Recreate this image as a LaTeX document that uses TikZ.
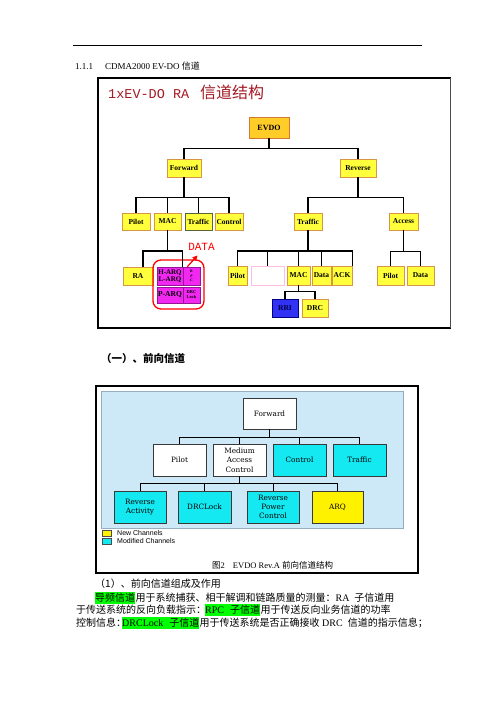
\documentclass[tikz,border=0pt]{standalone}
\usepackage{fontspec}
\setmainfont{Liberation Serif}
\newfontfamily\cjk{Noto Sans CJK SC}
\newfontfamily\monof{Liberation Mono}
\newfontfamily\dvs{DejaVu Serif}
\newfontfamily\lsans{Liberation Sans}
\usetikzlibrary{arrows.meta}
\definecolor{ybox}{RGB}{255,255,60}
\definecolor{yborder}{RGB}{214,150,70}
\definecolor{gold}{RGB}{255,204,40}
\definecolor{goldborder}{RGB}{210,120,50}
\definecolor{mfill}{RGB}{240,40,240}
\definecolor{mborder}{RGB}{150,20,150}
\definecolor{rriblue}{RGB}{50,50,245}
\definecolor{titlered}{RGB}{165,25,35}
\definecolor{bgblue}{RGB}{205,233,248}
\definecolor{bgborder}{RGB}{150,175,190}
\definecolor{cyanbox}{RGB}{20,232,240}
\definecolor{hlgreen}{RGB}{0,255,0}
\definecolor{olive2}{RGB}{90,100,60}
\begin{document}
\begin{tikzpicture}[x=1pt,y=-1pt,
  tb/.style={draw=yborder, fill=ybox, line width=0.7, inner sep=0, minimum height=17,
    font=\bfseries\fontsize{7.5}{8}\selectfont},
  mg/.style={draw=mborder, fill=mfill, line width=0.7, inner sep=0, align=center,
    font=\bfseries\fontsize{7}{8.5}\selectfont},
  bb/.style={draw=gray!45!black, line width=0.9, inner sep=0, minimum width=53, minimum height=32,
    align=center, font=\dvs\fontsize{7.3}{9.3}\selectfont},
  conn/.style={line width=1.5, black},
  conn2/.style={line width=0.7, black},
  txt/.style={anchor=base west, inner sep=0, font=\fontsize{10}{12}\selectfont},
  hl/.style={anchor=base west, inner xsep=0, inner ysep=0, fill=hlgreen, text height=9, text depth=2.5,
    font=\fontsize{10}{12}\selectfont},
  lgsq/.style={draw=black!70, minimum width=9, minimum height=6, inner sep=0},
  lgtx/.style={anchor=west, inner sep=0, font=\lsans\fontsize{7}{8}\selectfont},
]
\useasboundingbox (0,0) rectangle (496,702);
\fill[white] (0,0) rectangle (496,702);

% header rule and heading
\draw[line width=0.8] (73,45) -- (422,45);
\node[txt, font=\fontsize{9}{10}\selectfont] (h111) at (75,69) {1.1.1};
\node[txt, font=\fontsize{9}{10}\selectfont] (hcd) at (105,69) {CDMA2000 EV-DO {\cjk 信道}};

% ================= top figure =================
\draw[line width=1.6] (451,78) -- (98,78) -- (98,328) -- (451,328);
\draw[line width=1, gray!60!black] (450,78) -- (450,328);

\node[anchor=base west, inner sep=0, text=titlered] (title) at (108,98)
  {{\monof\fontsize{13.5}{14}\selectfont 1xEV-DO RA}\hspace{11pt}{\cjk\fontsize{16}{17}\selectfont 信道结构}};

\node[tb, fill=gold, draw=goldborder, minimum width=40, minimum height=21, font=\bfseries\fontsize{8}{9}\selectfont] (evdo) at (269,127.5) {EVDO};
\node[tb, minimum width=34, minimum height=18] (fwd) at (184,168) {Forward};
\node[tb, minimum width=36, minimum height=18] (rev) at (358,168) {Reverse};

\node[tb, minimum width=28] (fp) at (136,221.5) {Pilot};
\node[tb, minimum width=27] (fm) at (167.5,221.5) {MAC};
\node[tb, minimum width=27, draw=olive2] (ft) at (198.5,221.5) {Traffic};
\node[tb, minimum width=28] (fc) at (229,221.5) {Control};
\node[tb, minimum width=28] (rt) at (308,221.5) {Traffic};
\node[tb, minimum width=29] (acc) at (403.5,221.5) {Access};

\node[tb, minimum width=30, minimum height=18] (ra) at (138,276) {RA};
\node[mg, minimum width=26, minimum height=18] (harq) at (170,276) {H-ARQ\\[-1.5pt]L-ARQ};
\node[mg, minimum width=17, minimum height=18, font=\bfseries\fontsize{3.6}{4.2}\selectfont] (rpc) at (191.5,276) {R\\P\\C};
\node[mg, minimum width=26, minimum height=16, font=\bfseries\fontsize{7.5}{8.5}\selectfont] (parq) at (170,295) {P-ARQ};
\node[mg, minimum width=17, minimum height=16, font=\bfseries\fontsize{4.4}{5}\selectfont] (dlock) at (191.5,295) {DRC\\Lock};
\node[draw=red, line width=1.3, rounded corners=8, minimum width=51, minimum height=49, inner sep=0] (grp) at (178.5,284.5) {};
\node[inner sep=0, text=red, font=\monof\fontsize{11}{12}\selectfont] (data) at (201.5,246.5) {DATA};
\coordinate (datatip) at (197.5,255.5);
\draw[red, line width=1.2, -{Triangle[length=5pt,width=5pt]}] ([xshift=4]harq.north east) -- (datatip);

\node[tb, minimum width=19, minimum height=19] (rp) at (237.5,275.5) {Pilot};
\node[draw=magenta!25, fill=white, line width=0.7, minimum width=33, minimum height=19, inner sep=0] (blank) at (267.5,275.5) {};
\node[tb, minimum width=23, minimum height=19] (rmac) at (298.5,275.5) {MAC};
\node[tb, minimum width=19, minimum height=19] (rdata) at (321.5,275.5) {Data};
\node[tb, minimum width=20, minimum height=19] (ack) at (342,275.5) {ACK};
\node[tb, fill=rriblue, draw=blue!50!black, text=blue!25!black, minimum width=26, minimum height=18] (rri) at (285,308) {RRI};
\node[tb, minimum width=26, minimum height=18] (drc) at (315,308) {DRC};
\node[tb, minimum width=27, minimum height=19] (ap) at (390.5,275.5) {Pilot};
\node[tb, minimum width=27, minimum height=19] (ad) at (420.5,275.5) {Data};

% connectors top
\draw[conn] (evdo.south) -- ++(0,10) -| (fwd.north);
\draw[conn] (evdo.south) -- ++(0,10) -| (rev.north);
\foreach \n in {fp,fm,ft,fc} \draw[conn] (fwd.south) -- ++(0,20) -| (\n.north);
\draw[conn] (rev.south) -- ++(0,20) -| (rt.north);
\draw[conn] (rev.south) -- ++(0,20) -| (acc.north);
\draw[conn] (fm.south) -- ++(0,20.5) -| ([xshift=5]ra.north);
\draw[conn] (fm.south) -- ++(0,20.5) -| ([xshift=-1]harq.north east);
\foreach \n in {rp,blank,rmac,rdata} \draw[conn] (rt.south) -- ++(0,20.5) -| (\n.north);
\draw[conn] (rt.south) -- ++(0,20.5) -| (ack.north east);
\draw[conn] (rmac.south) -- ++(0,6) -| (rri.north);
\draw[conn] (rmac.south) -- ++(0,6) -| (drc.north);
\draw[conn] (acc.south) -- ++(0,21) -| (ap.north);
\draw[conn] (acc.south) -- ++(0,21) -| (ad.north);

% ================= section heading =================
\node[txt, font=\cjk\bfseries\fontsize{10.5}{12}\selectfont] (sec) at (101,362) {（一）、前向信道};

% ================= second figure =================
\draw[line width=1.5] (96,386) rectangle (418,573);
\draw[fill=bgblue, draw=bgborder, line width=0.7] (101,391) rectangle (403,528);

\node[bb, fill=white, minimum height=31] (f2) at (269.5,413.5) {Forward};
\node[bb, fill=white] (p2) at (179.5,460) {Pilot};
\node[bb, fill=white] (m2) at (239.5,460) {Medium\\Access\\Control};
\node[bb, fill=cyanbox] (c2) at (299.5,460) {Control};
\node[bb, fill=cyanbox] (t2) at (359.5,460) {Traffic};
\node[bb, fill=cyanbox, minimum width=52] (ra2) at (140,507) {Reverse\\Activity};
\node[bb, fill=cyanbox] (dl2) at (204.5,507) {DRCLock};
\node[bb, fill=cyanbox, minimum width=52] (rp2) at (273,507) {Reverse\\Power\\Control};
\node[bb, fill=yellow, minimum width=51] (arq2) at (337.5,507) {ARQ};

\foreach \n in {p2,m2,c2,t2} \draw[conn2] (f2.south) -- ++(0,8) -| (\n.north);
\foreach \n in {ra2,dl2,rp2,arq2} \draw[conn2] (m2.south) -- ++(0,7) -| (\n.north);

\node[lgsq, fill=yellow] (lgy) at (106.5,533) {};
\node[lgtx] (lgyt) at (117,533) {New Channels};
\node[lgsq, fill=cyanbox] (lgc) at (106.5,541) {};
\node[lgtx] (lgct) at (117,541) {Modified Channels};

\node[txt, font=\fontsize{8.5}{10}\selectfont] (cap) at (212,568)
  {{\cjk 图}2\hspace{8pt}EVDO Rev.A {\cjk 前向信道结构}};

% ================= body text =================
\node[txt] (l1) at (95,587) {\cjk （1）、前向信道组成及作用};

\node[hl] (g1) at (95,601) {\cjk 导频信道};
\node[txt] (l2) at (g1.base east) {{\cjk 用于系统捕获、相干解调和链路质量的测量：}RA\hspace{5pt}{\cjk 子信道用}};

\node[txt] (l3a) at (76,613) {\cjk 于传送系统的反向负载指示：};
\node[hl] (g2) at (205,613) {RPC\hspace{6pt}{\cjk 子信道}};
\node[txt] (l3b) at (g2.base east) {\cjk 用于传送反向业务信道的功率};

\node[txt] (l4a) at (76,626) {\cjk 控制信息：};
\node[hl] (g3) at (122,626) {DRCLock\hspace{6pt}{\cjk 子信道}};
\node[txt] (l4b) at (g3.base east) {{\cjk 用于传送系统是否正确接收} DRC\hspace{5pt}{\cjk 信道的指示信息；}};
\end{tikzpicture}
\end{document}
